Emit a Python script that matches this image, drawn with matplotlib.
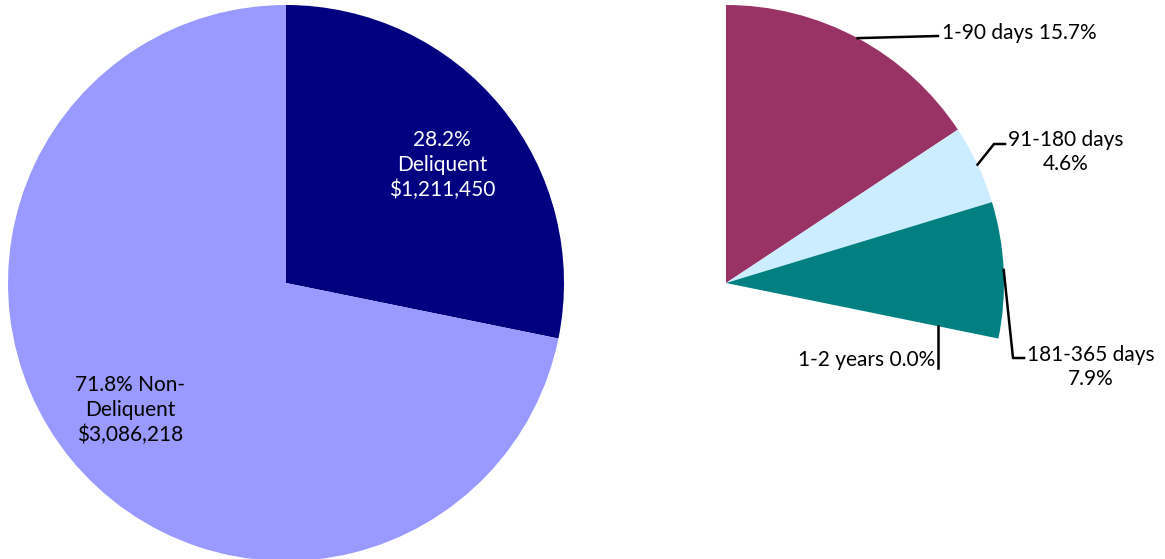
import numpy as np
import matplotlib.pyplot as plt

plt.rcParams['font.family'] = ['Lato', 'DejaVu Sans']

# data
main_labels = ['Deliquent', 'Non-\nDeliquent']
main_pct = [28.2, 71.8]
main_amounts = ['$1,211,450', '$3,086,218']
main_colors = ['#000080', '#9999FF']

aging_labels = ['1-90 days', '91-180 days', '181-365 days', '1-2 years']
aging_pct = [15.7, 4.6, 7.9, 0.0]
aging_colors = ['#993366', '#CCECFF', '#008080', '#FFFF99']

W, H = 1165, 559
fig = plt.figure(figsize=(W / 100, H / 100), dpi=100)
ax = fig.add_axes([0, 0, 1, 1])

def Y(py):
    return H - py

# left pie
c1 = (286, Y(283))
r1 = 278
ax.pie(main_pct, colors=main_colors, startangle=90, counterclock=False,
       center=c1, radius=r1, frame=True, wedgeprops=dict(linewidth=0))

fs = 15
ls = 1.3
ax.text(442, Y(165), f"{main_pct[0]}%\n{main_labels[0]}\n{main_amounts[0]}",
        color='white', fontsize=fs, ha='center', va='center', linespacing=ls)
ax.text(130, Y(410), f"{main_pct[1]}% {main_labels[1]}\n{main_amounts[1]}",
        color='black', fontsize=fs, ha='center', va='center', linespacing=ls)

# right partial pie (share of total)
c2 = (726, Y(283))
r2 = 278
vals = aging_pct + [100 - sum(aging_pct)]
cols = aging_colors + ['none']
wedges, _ = ax.pie(vals, colors=cols, startangle=90, counterclock=False,
                   center=c2, radius=r2, frame=True, wedgeprops=dict(linewidth=0))

def edge_pt(w, frac=1.0):
    ang = np.deg2rad((w.theta1 + w.theta2) / 2)
    return c2[0] + frac * r2 * np.cos(ang), c2[1] + frac * r2 * np.sin(ang)

lw = 1.8
# 1-90 days
x0, y0 = edge_pt(wedges[0])
ax.plot([x0, 938], [y0, Y(36)], color='black', lw=lw)
ax.text(942, Y(33), f"{aging_labels[0]} {aging_pct[0]}%", fontsize=fs, ha='left', va='center')
# 91-180 days
x0, y0 = edge_pt(wedges[1])
ax.plot([x0, 994, 1005], [y0, Y(144), Y(144)], color='black', lw=lw)
ax.text(1066, Y(152), f"{aging_labels[1]}\n{aging_pct[1]}%", fontsize=fs, ha='center', va='center', linespacing=ls)
# 181-365 days
x0, y0 = edge_pt(wedges[2])
ax.plot([x0, 1013, 1024], [y0, Y(358), Y(358)], color='black', lw=lw)
ax.text(1091, Y(367), f"{aging_labels[2]}\n{aging_pct[2]}%", fontsize=fs, ha='center', va='center', linespacing=ls)
# 1-2 years
x0, y0 = edge_pt(wedges[3], 0.78)
ax.plot([x0, x0], [y0, Y(368)], color='black', lw=lw)
ax.text(x0 - 3, Y(360), f"{aging_labels[3]} {aging_pct[3]}%", fontsize=fs, ha='right', va='center')

ax.set_xlim(0, W)
ax.set_ylim(0, H)
ax.set_aspect('auto')
ax.axis('off')
fig.savefig('out.png', dpi=100)
